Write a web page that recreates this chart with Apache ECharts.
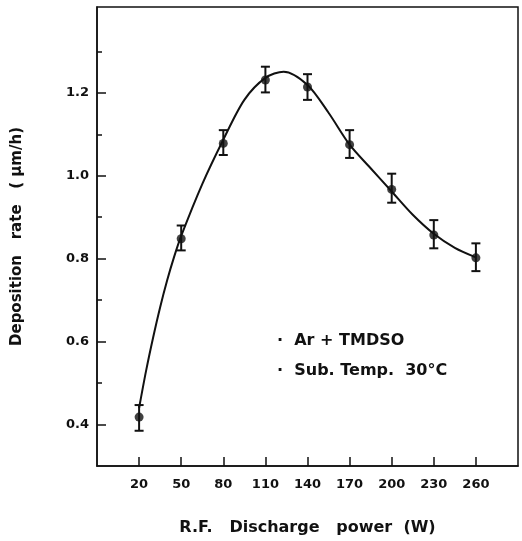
<!DOCTYPE html>
<html>
<head>
<meta charset="utf-8">
<script src="https://cdn.jsdelivr.net/npm/echarts@6/dist/echarts.min.js"></script>
<style>
  html, body { margin: 0; padding: 0; background: #fff; }
  #main { width: 522px; height: 541px; }
</style>
</head>
<body>
<div id="main"></div>
<script>
// measured points (R.F. power in W, deposition rate in um/h)
const power = [20, 50, 80, 110, 140, 170, 200, 230, 260];
const rate = [0.418, 0.848, 1.078, 1.231, 1.214, 1.075, 0.967, 0.857, 0.802];
const errTop = [0.447, 0.880, 1.110, 1.263, 1.245, 1.110, 1.005, 0.893, 0.837];
const errBottom = [0.385, 0.820, 1.050, 1.201, 1.183, 1.043, 0.935, 0.825, 0.770];

// hand drawn fit curve
const fitX = [20, 25, 30, 35, 40, 45, 50, 65, 80, 95, 110, 123, 140, 155, 170, 185, 200, 215, 230, 245, 260];
const fitY = [0.44, 0.53, 0.61, 0.683, 0.748, 0.805, 0.855, 0.98, 1.087, 1.183, 1.236, 1.251, 1.219, 1.152, 1.075, 1.018, 0.962, 0.906, 0.860, 0.826, 0.803];

const xTicks = [20, 50, 80, 110, 140, 170, 200, 230, 260];
const yLabels = [0.4, 0.6, 0.8, 1.0, 1.2];
const yMinor = [0.5, 0.7, 0.9, 1.1, 1.3];

const notes = ['·  Ar + TMDSO', '·  Sub. Temp.  30°C'];

const chartDom = document.getElementById('main');
const myChart = echarts.init(chartDom);

const font = 'DejaVu Sans';

const option = {
  animation: false,
  backgroundColor: '#fff',
  grid: {
    left: 97, top: 7, right: 4, bottom: 74,
    show: true, borderColor: '#111', borderWidth: 1.5
  },
  xAxis: {
    type: 'value',
    min: -10, max: 290,
    name: 'R.F.   Discharge   power  (W)',
    nameLocation: 'middle',
    nameGap: 54,
    nameTextStyle: { fontFamily: font, fontSize: 16, fontWeight: 'bold', color: '#111' },
    axisLine: { onZero: false, lineStyle: { color: '#111', width: 1.5 } },
    axisTick: { inside: true, length: 9, customValues: xTicks, lineStyle: { color: '#111', width: 1.5 } },
    axisLabel: { customValues: xTicks, margin: 12, fontFamily: font, fontSize: 13, fontWeight: 'bold', color: '#111' },
    splitLine: { show: false }
  },
  yAxis: [
    {
      type: 'value',
      min: 0.3, max: 1.407,
      name: 'Deposition   rate   ( μm/h)',
      nameLocation: 'middle',
      nameRotate: 90,
      nameGap: 72,
      nameTextStyle: { fontFamily: font, fontSize: 15, fontWeight: 'bold', color: '#111' },
      axisLine: { onZero: false, lineStyle: { color: '#111', width: 1.5 } },
      axisTick: { inside: true, length: 9, customValues: yLabels, lineStyle: { color: '#111', width: 1.5 } },
      axisLabel: {
        customValues: yLabels, margin: 8,
        fontFamily: font, fontSize: 13, fontWeight: 'bold', color: '#111',
        formatter: v => v.toFixed(1)
      },
      splitLine: { show: false }
    },
    {
      type: 'value',
      min: 0.3, max: 1.407,
      position: 'left',
      axisLine: { show: false, onZero: false },
      axisTick: { inside: true, length: 5, customValues: yMinor, lineStyle: { color: '#111', width: 1.5 } },
      axisLabel: { show: false },
      splitLine: { show: false }
    }
  ],
  graphic: notes.map((t, i) => ({
    type: 'text',
    left: 277,
    top: 333 + i * 30,
    style: { text: t, fontFamily: font, fontSize: 16, fontWeight: 'bold', fill: '#111' }
  })),
  series: [
    {
      name: 'fit',
      type: 'line',
      data: fitX.map((x, i) => [x, fitY[i]]),
      smooth: 0.3,
      showSymbol: false,
      lineStyle: { color: '#111', width: 2 },
      z: 2
    },
    {
      name: 'error',
      type: 'custom',
      data: power.map((x, i) => [x, errBottom[i], errTop[i]]),
      renderItem: (params, api) => {
        const lo = api.coord([api.value(0), api.value(1)]);
        const hi = api.coord([api.value(0), api.value(2)]);
        const w = 4.5;
        const st = { stroke: '#111', lineWidth: 2 };
        return {
          type: 'group',
          children: [
            { type: 'line', shape: { x1: lo[0], y1: lo[1], x2: hi[0], y2: hi[1] }, style: st },
            { type: 'line', shape: { x1: lo[0] - w, y1: lo[1], x2: lo[0] + w, y2: lo[1] }, style: st },
            { type: 'line', shape: { x1: hi[0] - w, y1: hi[1], x2: hi[0] + w, y2: hi[1] }, style: st }
          ]
        };
      },
      z: 3
    },
    {
      name: 'rate',
      type: 'scatter',
      data: power.map((x, i) => [x, rate[i]]),
      symbol: 'circle',
      symbolSize: 9,
      itemStyle: { color: '#111' },
      z: 4
    }
  ]
};

option && myChart.setOption(option);
</script>
</body>
</html>
